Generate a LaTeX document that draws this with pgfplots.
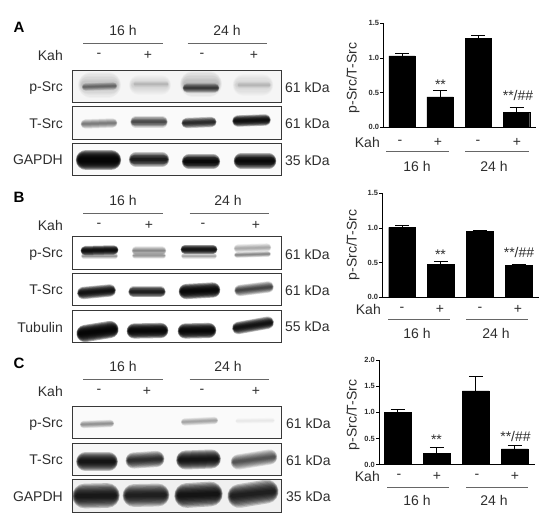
\documentclass[border=0pt]{standalone}
\usepackage{pgfplots}
\pgfplotsset{compat=1.18}
\usepackage{fontspec}
\setmainfont{Liberation Sans}
\definecolor{txt}{HTML}{2E2E2E}
\newcommand{\layer}[7]{%
\pgfmathsetmacro\bLw{#5*#7}%
\pgfmathsetmacro\bOp{#6*0.55}%
\pgfmathsetmacro\bXa{#1+0.35*\bLw}%
\pgfmathsetmacro\bXb{#2-0.35*\bLw}%
\edef\bTmp{\noexpand\addplot[draw=black,opacity=\bOp,line cap=round,line width=\bLw pt] coordinates {(\bXa,#3)(\bXb,#4)};}\bTmp}
\newcommand{\band}[6]{%
\layer{#1}{#2}{#3}{#4}{#5}{#6}{1.9}\layer{#1}{#2}{#3}{#4}{#5}{#6}{1.7}%
\layer{#1}{#2}{#3}{#4}{#5}{#6}{1.5}\layer{#1}{#2}{#3}{#4}{#5}{#6}{1.3}%
\layer{#1}{#2}{#3}{#4}{#5}{#6}{1.1}\layer{#1}{#2}{#3}{#4}{#5}{#6}{0.9}%
\layer{#1}{#2}{#3}{#4}{#5}{#6}{0.7}\layer{#1}{#2}{#3}{#4}{#5}{#6}{0.5}%
\layer{#1}{#2}{#3}{#4}{#5}{#6}{0.3}}
\newcommand{\frm}[2]{\draw[line width=1pt,draw=black!78] (axis cs:72.3,#1) rectangle (axis cs:281,#2);}
\newcommand{\tr}[3]{\node[anchor=east,inner sep=0pt,text=txt,font=\fontsize{14}{14}\selectfont] at (axis cs:#1,#2) {#3};}
\newcommand{\tc}[3]{\node[anchor=center,inner sep=0pt,text=txt,font=\fontsize{14}{14}\selectfont] at (axis cs:#1,#2) {#3};}
\newcommand{\tl}[3]{\node[anchor=west,inner sep=0pt,text=txt,font=\fontsize{14}{14}\selectfont] at (axis cs:#1,#2) {#3};}
\newcommand{\hl}[3]{\draw[line width=0.6pt,draw=black!60] (axis cs:#1,#3) -- (axis cs:#2,#3);}
\newcommand{\head}[9]{\tc{#8}{#1}{16 h}\tc{#9}{#1}{24 h}\hl{#4}{#5}{#2}\hl{#6}{#7}{#2}\tr{63}{#3}{Kah}}
\pgfplotsset{barax/.style={
  scale only axis,anchor=south west,
  axis x line=bottom,axis y line=left,axis line style={-,line width=0.8pt,draw=black},
  xtick=\empty,ymin=0,
  tick style={draw=black,line width=0.7pt},
  major tick length=3pt,
  tick align=outside,
  yticklabel style={font=\fontsize{7.5}{8}\bfseries\selectfont,text=txt,inner sep=1pt},
  /pgf/number format/.cd,fixed,fixed zerofill,precision=1,assume math mode=true,
  /pgfplots/.cd,
  clip=false}}
\pgfplotsset{barpl/.style={ybar,fill=black,draw=black,bar shift=0pt,
  error bars/.cd,y dir=plus,y explicit,
  error bar style={line width=1pt,black},
  error mark options={rotate=90,mark size=7pt,line width=1pt,black},
  /pgfplots/.cd}}
\begin{document}
\begin{tikzpicture}[x=1pt,y=1pt]
\path[use as bounding box] (0,0) rectangle (550,524);
\begin{axis}[at={(0pt,0pt)},anchor=south west,scale only axis,width=550pt,height=524pt,
  xmin=0,xmax=550,ymin=0,ymax=524,y dir=reverse,hide axis,clip=false,no markers]
% backgrounds
\fill[black!4] (axis cs:72.3,70.3) rectangle (axis cs:281,102.7);
\fill[black!2] (axis cs:72.3,107) rectangle (axis cs:281,139.3);
\fill[black!2] (axis cs:72.3,143.7) rectangle (axis cs:281,176);
\fill[black!2] (axis cs:72.3,406.7) rectangle (axis cs:281,439);
\fill[black!3] (axis cs:72.3,443.3) rectangle (axis cs:281,475.7);
\fill[black!6] (axis cs:72.3,480) rectangle (axis cs:281,512.3);
% A p-Src
\band{82}{117}{85}{85}{14}{.04}
\band{132}{168}{85}{85}{11}{.03}
\band{184}{218}{84}{84}{14}{.05}
\band{236}{270}{85}{85}{12}{.03}
\band{83}{116}{87}{86}{4}{.12}
\band{134}{168}{84}{84}{3}{.02}
\band{184}{218}{88}{88}{5}{.22}
\band{238}{270}{85}{85}{3}{.02}
% A T-Src
\band{82}{116}{124}{123}{5}{.13}
\band{132}{166}{122}{122}{6}{.22}
\band{183}{215}{123}{122}{5.5}{.32}
\band{234}{269}{121}{120}{6}{.46}
% A GAPDH
\band{79}{118}{160}{160}{11}{.6}
\band{131}{167}{159.5}{159.5}{7.5}{.38}
\band{184}{218}{161.5}{161.5}{7.5}{.52}
\band{236}{274}{161}{161}{8}{.52}
% B p-Src
\band{82}{117}{250.7}{250}{5}{.5}
\band{82}{117}{256}{256}{3}{.1}
\band{133}{165}{250.7}{250.7}{4.5}{.12}
\band{133}{165}{255.7}{255.7}{3}{.1}
\band{182}{216}{249.3}{249.3}{5}{.45}
\band{182}{216}{256}{256}{3}{.08}
\band{235}{270}{248.5}{247.5}{4.5}{.08}
\band{235}{270}{255}{254}{3}{.12}
% B T-Src
\band{79}{114}{293}{290.5}{6.5}{.46}
\band{130}{164}{291.7}{291.7}{6}{.38}
\band{181}{218}{291.5}{290}{8}{.56}
\band{236}{272}{290.5}{287}{6}{.24}
% B Tubulin
\band{79}{116}{333.5}{329.5}{9}{.62}
\band{129}{166}{331}{330.5}{8}{.58}
\band{180}{214}{331}{330.5}{8}{.58}
\band{234}{272}{328}{322.7}{6.5}{.46}
% C p-Src
\band{81}{113}{424.5}{423.5}{4}{.1}
\band{182}{217}{422}{420.5}{4}{.08}
\band{236}{274}{421}{420.5}{3}{.012}
% C T-Src
\band{79}{115}{461.7}{461.7}{10}{.42}
\band{128}{162}{460.5}{459}{8.5}{.3}
\band{179}{218}{460}{459}{10}{.42}
\band{233}{275}{462}{457}{8}{.2}
% C GAPDH
\band{76}{116}{496}{495.5}{13}{.4}
\band{126}{166}{495.5}{495}{12}{.36}
\band{178}{219}{495.5}{494}{13}{.42}
\band{231}{275}{496}{491.5}{12.5}{.36}
% frames
\frm{70.3}{102.7}\frm{107}{139.3}\frm{143.7}{176}
\frm{236.7}{270}\frm{274}{306}\frm{310.7}{343}
\frm{406.7}{439}\frm{443.3}{475.7}\frm{480}{512.3}
% panel letters
\node[inner sep=0pt,font=\fontsize{15}{15}\bfseries\selectfont] at (axis cs:19,27) {A};
\node[inner sep=0pt,font=\fontsize{15}{15}\bfseries\selectfont] at (axis cs:19,197) {B};
\node[inner sep=0pt,font=\fontsize{15}{15}\bfseries\selectfont] at (axis cs:19,363) {C};
% headers
\head{30}{43}{55}{83.3}{162.7}{187.7}{266.7}{123}{227}
\head{200.7}{213.3}{225.7}{83.3}{162.7}{189.7}{268.7}{123}{228}
\head{366}{379.3}{391.7}{83.3}{162.7}{189.7}{268.7}{123}{228}
% - and +
\tc{99}{55}{-}\tc{148}{55}{+}\tc{202}{55}{-}\tc{254}{55}{+}
\tc{99}{225.7}{-}\tc{149}{225.7}{+}\tc{203}{225.7}{-}\tc{256}{225.7}{+}
\tc{99}{391.7}{-}\tc{147}{391.7}{+}\tc{202}{391.7}{-}\tc{256}{391.7}{+}
% lane labels
\tr{63}{88}{p-Src}\tr{63}{123.5}{T-Src}\tr{63}{160}{GAPDH}
\tr{63}{254.5}{p-Src}\tr{63}{290}{T-Src}\tr{63}{327}{Tubulin}
\tr{63}{424}{p-Src}\tr{63}{460}{T-Src}\tr{63}{496.5}{GAPDH}
% kDa
\tl{285}{87}{61 kDa}\tl{285}{123.5}{61 kDa}\tl{285}{160}{35 kDa}
\tl{285}{254}{61 kDa}\tl{285}{290.5}{61 kDa}\tl{285}{326.5}{55 kDa}
\tl{286}{423.5}{61 kDa}\tl{286}{460}{61 kDa}\tl{286}{496.5}{35 kDa}
% right: ylabels
\node[rotate=90,inner sep=0pt,text=txt,font=\fontsize{14}{14}\selectfont] at (axis cs:353,78) {p-Src/T-Src};
\node[rotate=90,inner sep=0pt,text=txt,font=\fontsize{14}{14}\selectfont] at (axis cs:353,245) {p-Src/T-Src};
\node[rotate=90,inner sep=0pt,text=txt,font=\fontsize{14}{14}\selectfont] at (axis cs:353,415) {p-Src/T-Src};
% right: A row
\tr{380}{142}{Kah}\tc{400}{142}{-}\tc{438}{142}{+}\tc{478}{142}{-}\tc{517}{142}{+}
\hl{386}{449}{151.5}\hl{465}{529}{151.5}
\tc{417}{166}{16 h}\tc{494}{166}{24 h}
% B row
\tr{381}{309}{Kah}\tc{402}{309}{-}\tc{440}{309}{+}\tc{480}{309}{-}\tc{518}{309}{+}
\hl{388}{450}{319}\hl{466}{528}{319}
\tc{417}{333}{16 h}\tc{496}{333}{24 h}
% C row
\tr{380}{476}{Kah}\tc{399}{476}{-}\tc{437}{476}{+}\tc{477}{476}{-}\tc{515}{476}{+}
\hl{387}{449}{487}\hl{466}{528}{487}
\tc{417}{500}{16 h}\tc{494}{500}{24 h}
% stars
\tc{440.5}{84.5}{**}\tc{518}{95}{**/\#\#}
\tc{440.5}{255}{**}\tc{519}{252}{**/\#\#}
\tc{436.5}{439.5}{**}\tc{515.5}{436.5}{**/\#\#}
\end{axis}
% bar axes
\begin{axis}[barax,at={(383.3pt,396.7pt)},width=152.7pt,height=104pt,
  xmin=-0.49,xmax=3.51,ymax=1.5,ytick={0,0.5,1,1.5}]
\addplot[barpl,bar width=26.4pt] coordinates {(0,1.03)+-(0,0.03) (1,0.44)+-(0,0.09) (2,1.28)+-(0,0.04) (3,0.22)+-(0,0.07)};
\end{axis}
\begin{axis}[barax,at={(382.3pt,226.7pt)},width=157pt,height=104pt,
  xmin=-0.51,xmax=3.53,ymax=1.5,ytick={0,0.5,1,1.5}]
\addplot[barpl,bar width=26.8pt] coordinates {(0,1.01)+-(0,0.02) (1,0.48)+-(0,0.03) (2,0.95)+-(0,0.02) (3,0.46)+-(0,0.02)};
\end{axis}
\begin{axis}[barax,at={(379pt,59.3pt)},width=155.7pt,height=104.7pt,
  xmin=-0.48,xmax=3.51,ymax=2.0,ytick={0,0.5,1,1.5,2}]
\addplot[barpl,bar width=26.8pt] coordinates {(0,1.0)+-(0,0.05) (1,0.22)+-(0,0.11) (2,1.41)+-(0,0.27) (3,0.30)+-(0,0.06)};
\end{axis}
\end{tikzpicture}
\end{document}
